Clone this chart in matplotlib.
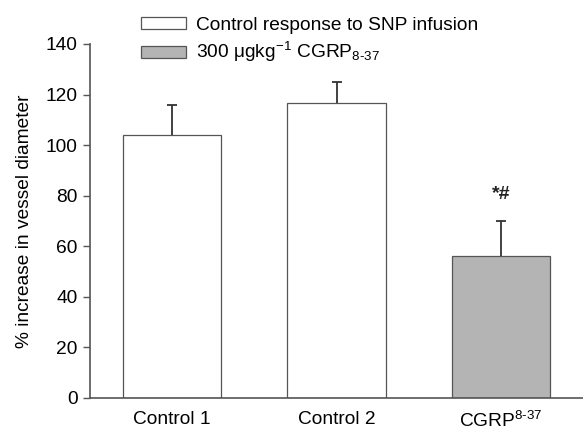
import matplotlib
matplotlib.use("Agg")
import matplotlib.pyplot as plt
from matplotlib.patches import Patch

plt.rcParams['font.family'] = ['Liberation Sans', 'DejaVu Sans']
plt.rcParams['mathtext.default'] = 'regular'

categories = ['Control 1', 'Control 2', 'CGRP$^{8\u201037}$']
means = [104, 116.5, 56]
errors = [12, 8.5, 14]
colors = ['white', 'white', '#b4b4b4']
yticks = [0, 20, 40, 60, 80, 100, 120, 140]
legend_labels = ['Control response to SNP infusion',
                 '300 \u03bcgkg$^{-1}$ CGRP$_{8\u201037}$']
annotation = '*#'

FS = 13.8
W, H = 583, 430
fig = plt.figure(figsize=(W/100, H/100), dpi=100)
ax = fig.add_axes([90/W, (H-398)/H, (583-90)/W, (398-44)/H])

x = list(range(len(categories)))
ax.bar(x, means, width=0.6, color=colors, edgecolor='#555555', linewidth=0.9, zorder=2)
eb = ax.errorbar(x, means, yerr=[[0]*len(means), errors], fmt='none', ecolor='#333333',
                 elinewidth=1.3, capsize=3.3, capthick=1.3, zorder=3)
eb[1][0].set_visible(False)
ax.text(2, means[2] + errors[2] + 10.5, annotation, ha='center', va='center',
        fontsize=14, fontweight='bold', color='#222222')

ax.set_xlim(-0.5, 2.5)
ax.set_ylim(0, 140)
ax.set_yticks(yticks)
ax.set_xticks(x)
ax.set_xticklabels(categories, fontsize=FS)
ax.tick_params(axis='y', labelsize=FS, length=5, width=1, color='#555555', direction='out', pad=4)
ax.tick_params(axis='x', length=0, pad=9)
for s in ['top', 'right']:
    ax.spines[s].set_visible(False)
for s in ['left', 'bottom']:
    ax.spines[s].set_color('#555555')
    ax.spines[s].set_linewidth(1.2)
ax.set_ylabel('% increase in vessel diameter', fontsize=FS, labelpad=9)

handles = [Patch(facecolor=colors[0], edgecolor='#555555', linewidth=0.9),
           Patch(facecolor=colors[2], edgecolor='#555555', linewidth=0.9)]
fig.legend(handles, legend_labels, loc='upper left', bbox_to_anchor=(133/W, 1 - 9/H),
           frameon=False, fontsize=FS, handlelength=2.35, handleheight=0.57,
           handletextpad=0.55, labelspacing=0.35, borderaxespad=0)

fig.savefig('out.png', dpi=100)
